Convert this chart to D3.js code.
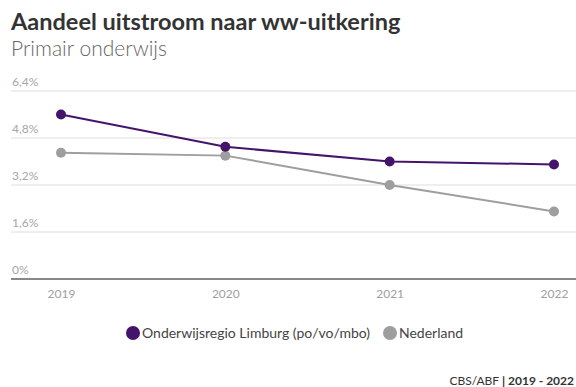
<!DOCTYPE html>
<html>
<head>
<meta charset="utf-8">
<script src="https://cdn.jsdelivr.net/npm/d3@7"></script>
<style>
  html, body { margin: 0; padding: 0; background: #fff; }
  svg { display: block; font-family: Lato, "Open Sans", sans-serif; }
</style>
</head>
<body>
<svg id="chart" width="576" height="387"></svg>
<script>
// Share of outflow into unemployment benefits (%)
const years = ["2019", "2020", "2021", "2022"];
const limburg = [5.6, 4.5, 4.0, 3.9];
const nederland = [4.3, 4.2, 3.2, 2.3];
const yTicks = [0, 1.6, 3.2, 4.8, 6.4];
const seriesNames = ["Onderwijsregio Limburg (po/vo/mbo)", "Nederland"];
const seriesColors = ["#44146b", "#9e9e9e"];

const svg = d3.select("#chart");
const W = 576;

const x = d3.scalePoint().domain(years).range([61, 554]);
const y = d3.scaleLinear().domain([0, 6.4]).range([279, 91]);
const fmt = v => (v === 0 ? "0" : d3.format(".1f")(v).replace(".", ",")) + "%";

// Title and subtitle
svg.append("text").attr("x", 11).attr("y", 30)
  .attr("font-size", 23.5).attr("font-weight", 700).attr("fill", "#333")
  .text("Aandeel uitstroom naar ww-uitkering");
svg.append("text").attr("x", 11).attr("y", 56)
  .attr("font-size", 21).attr("font-weight", 300).attr("fill", "#666")
  .text("Primair onderwijs");

// Gridlines with labels above them
const grid = svg.append("g");
yTicks.forEach(t => {
  grid.append("line")
    .attr("x1", 11).attr("x2", W)
    .attr("y1", y(t)).attr("y2", y(t))
    .attr("stroke", t === 0 ? "#888" : "#ddd")
    .attr("stroke-width", t === 0 ? 2 : 1);
  grid.append("text")
    .attr("x", 12).attr("y", y(t) - 5)
    .attr("font-size", 12).attr("fill", "#a6a6a6")
    .text(fmt(t));
});

// X axis labels
const xAxis = d3.axisBottom(x).tickSize(0).tickPadding(10);
const gx = svg.append("g").attr("transform", `translate(0,${y(0)})`).call(xAxis);
gx.select(".domain").remove();
gx.selectAll("text").attr("font-size", 12).attr("fill", "#a0a0a0")
  .attr("font-family", "Lato, 'Open Sans', sans-serif");

// Lines and points
const line = d3.line().x((d, i) => x(years[i])).y(d => y(d));
[nederland, limburg].forEach((data, k) => {
  const color = k === 0 ? seriesColors[1] : seriesColors[0];
  svg.append("path").datum(data)
    .attr("d", line).attr("fill", "none")
    .attr("stroke", color).attr("stroke-width", 2);
  svg.append("g").selectAll("circle").data(data).join("circle")
    .attr("cx", (d, i) => x(years[i])).attr("cy", d => y(d))
    .attr("r", 5).attr("fill", color);
});

// Legend
const legend = svg.append("g").attr("transform", "translate(0,333)");
const legendX = [133, 390];
seriesNames.forEach((name, i) => {
  legend.append("circle").attr("cx", legendX[i]).attr("cy", 0)
    .attr("r", 7).attr("fill", seriesColors[i]);
  legend.append("text").attr("x", legendX[i] + 9).attr("y", 5)
    .attr("font-size", 14).attr("fill", "#444").text(name);
});

// Source
const src = svg.append("text").attr("x", 574).attr("y", 385)
  .attr("text-anchor", "end").attr("font-size", 12).attr("fill", "#333");
src.append("tspan").text("CBS/ABF ");
src.append("tspan").attr("font-weight", 700).text("| 2019 - 2022");
</script>
</body>
</html>
